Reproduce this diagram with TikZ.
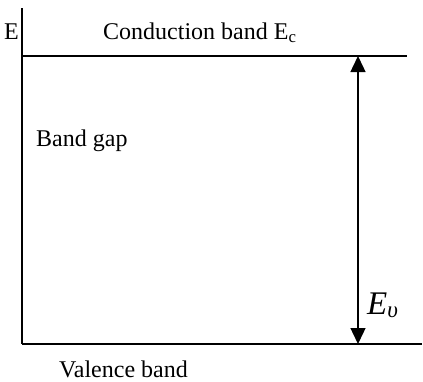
\documentclass[tikz,border=0pt]{standalone}
\usepackage{fontspec}
\setmainfont{Liberation Serif}
\usetikzlibrary{arrows.meta}
\begin{document}
\begin{tikzpicture}[x=1pt,y=-1pt,
  axisline/.style={line width=1.6pt,black},
  bandline/.style={line width=1.6pt,black},
  gaparrow/.style={line width=1.4pt,black,{Triangle[width=15pt,length=16pt]}-{Triangle[width=15pt,length=16pt]}},
  lbl/.style={inner sep=0pt,anchor=base west,font=\fontsize{24}{28}\selectfont}]
\useasboundingbox (0,0) rectangle (423,381);
% axis
\coordinate (axtop) at (22,8);
\coordinate (axbot) at (22,344);
\draw[axisline] (axtop) -- (axbot);
% bands
\coordinate (cbl) at (22,56);
\coordinate (cbr) at (407,56);
\coordinate (vbl) at (22,344);
\coordinate (vbr) at (422,344);
\draw[bandline] (cbl) -- (cbr);
\draw[bandline] (vbl) -- (vbr);
% arrow
\coordinate (atop) at (358,56);
\coordinate (abot) at (358,344);
\draw[gaparrow] (abot) -- (atop);
% labels
\node[lbl] (e) at (4,39) {E};
\node[lbl] (cb) at (103,39) {Conduction band E\textsubscript{c}};
\node[lbl] (bg) at (36,146) {Band gap};
\node[lbl] (vb) at (59,377) {Valence band};
\node[inner sep=0pt,anchor=base west,font=\fontsize{33}{36}\selectfont] (ev) at (367,314) {\textit{E}\textsubscript{\textit{υ}}};
\end{tikzpicture}
\end{document}
